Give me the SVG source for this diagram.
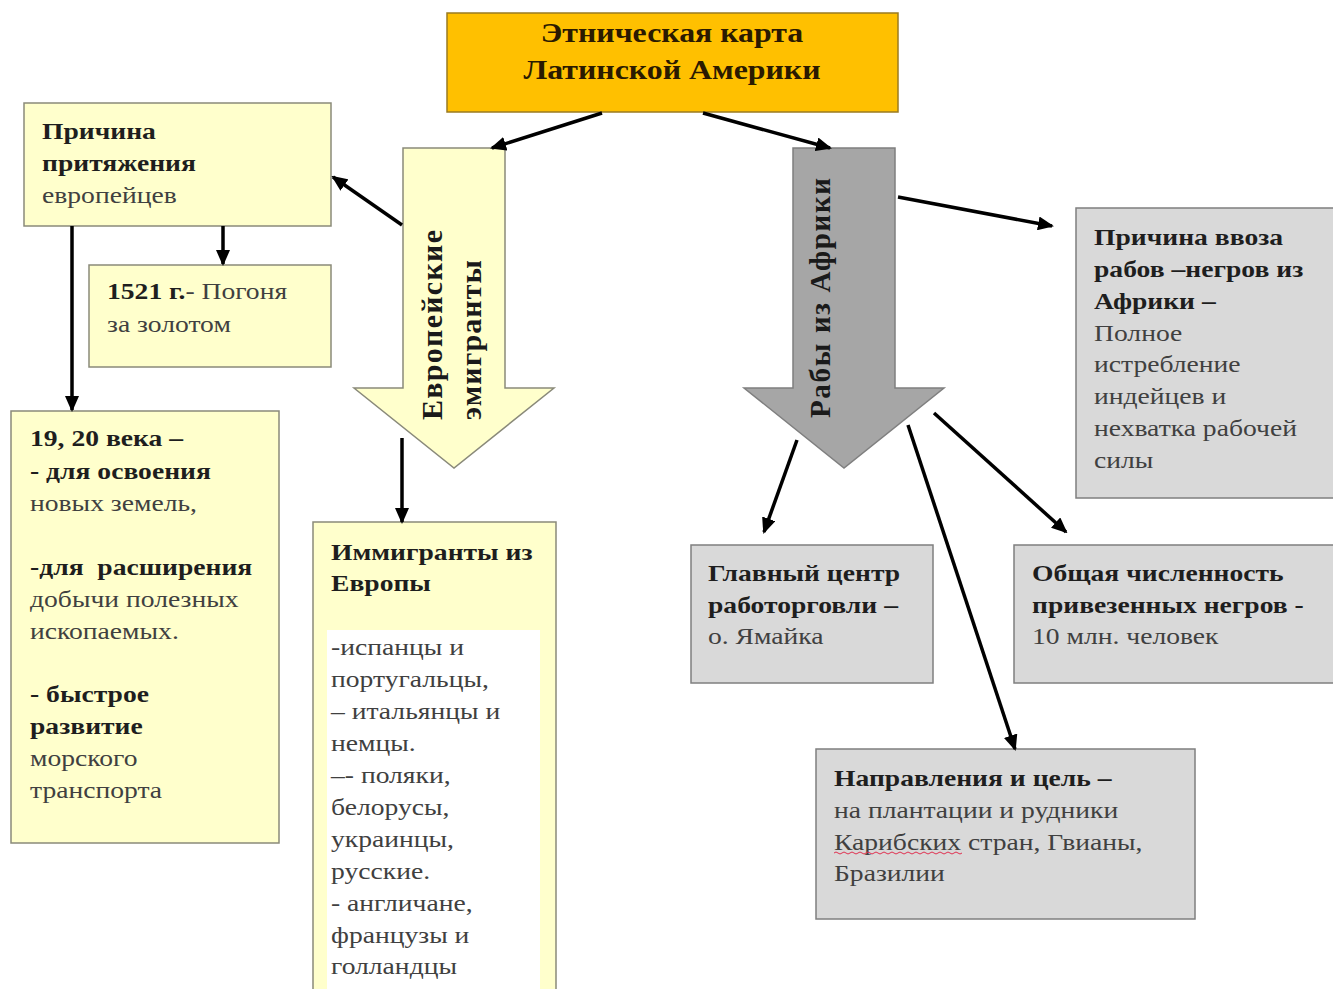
<svg xmlns="http://www.w3.org/2000/svg" width="1333" height="989" viewBox="0 0 1333 989">
<style>
.yb{fill:#FFFFCC;stroke:#8a8a7a;stroke-width:1.5}
.gb{fill:#D9D9D9;stroke:#7f7f7f;stroke-width:1.5}
.t{font-family:"Liberation Serif","Times New Roman",serif;font-size:24px;fill:#404040}
.b{font-weight:bold;fill:#1e1e1e}
.c{stroke:#000;stroke-width:3.5;fill:none;marker-end:url(#ah)}
.vt{font-family:"Liberation Serif","Times New Roman",serif;font-weight:bold;fill:#1a1a1a}
</style>
<defs>
<marker id="ah" markerUnits="userSpaceOnUse" markerWidth="16" markerHeight="14" refX="14" refY="7" orient="auto">
<path d="M0,0 L16,7 L0,14 z" fill="#000"/>
</marker>
</defs>
<rect x="0" y="0" width="1333" height="989" fill="#fff"/>

<g id="title">
<rect x="447" y="13" width="451" height="99" fill="#FFC000" stroke="#9a7b20" stroke-width="1.5"/>
<g transform="translate(672 0) scale(1.18 1)">
<text font-family="Liberation Serif,'Times New Roman',serif" font-size="27" font-weight="bold" fill="#2b1a00" text-anchor="middle"><tspan x="0" y="42">Этническая карта</tspan><tspan x="0" y="79">Латинской Америки</tspan></text>
</g>
</g>

<g id="european-arrow">
<path d="M403,148 L505,148 L505,388 L554,388 L454,468 L354,388 L403,388 Z" fill="#FFFFCC" stroke="#8a8a7a" stroke-width="1.5"/>
<text class="vt" font-size="30" transform="translate(442 420) rotate(-90)" textLength="190">Европейские</text>
<text class="vt" font-size="30" transform="translate(481 420) rotate(-90)" textLength="160">эмигранты</text>
</g>

<g id="africa-arrow">
<path d="M793,148 L895,148 L895,388 L944,388 L844,468 L744,388 L793,388 Z" fill="#A6A6A6" stroke="#7f7f7f" stroke-width="1.5"/>
<text class="vt" font-size="29" transform="translate(830 418) rotate(-90)" textLength="240">Рабы из Африки</text>
</g>

<g id="reason-attraction">
<rect class="yb" x="24" y="103" width="307" height="123"/>
<g transform="translate(42 0) scale(1.15 1)">
<text class="t"><tspan class="b" x="0" y="139">Причина</tspan><tspan class="b" x="0" y="171">притяжения</tspan><tspan x="0" y="203">европейцев</tspan></text>
</g>
</g>

<g id="gold-1521">
<rect class="yb" x="89" y="265" width="242" height="102"/>
<g transform="translate(107 0) scale(1.15 1)">
<text class="t"><tspan x="0" y="299"><tspan class="b">1521 г.</tspan>- Погоня</tspan><tspan x="0" y="332">за золотом</tspan></text>
</g>
</g>

<g id="centuries-19-20">
<rect class="yb" x="11" y="411" width="268" height="432"/>
<g transform="translate(30 0) scale(1.15 1)">
<text class="t"><tspan class="b" x="0" y="446">19, 20 века –</tspan><tspan class="b" x="0" y="479">- для освоения</tspan><tspan x="0" y="511">новых земель,</tspan><tspan class="b" x="0" y="575" xml:space="preserve">-для  расширения</tspan><tspan x="0" y="607">добычи полезных</tspan><tspan x="0" y="639">ископаемых.</tspan><tspan class="b" x="0" y="702">- быстрое</tspan><tspan class="b" x="0" y="734">развитие</tspan><tspan x="0" y="766">морского</tspan><tspan x="0" y="798">транспорта</tspan></text>
</g>
</g>

<g id="immigrants-europe">
<rect class="yb" x="313" y="522" width="243" height="480"/>
<rect x="327" y="630" width="213" height="360" fill="#fff"/>
<g transform="translate(331 0) scale(1.15 1)">
<text class="t"><tspan class="b" x="0" y="560">Иммигранты из</tspan><tspan class="b" x="0" y="591">Европы</tspan><tspan x="0" y="655">-испанцы и</tspan><tspan x="0" y="687">португальцы,</tspan><tspan x="0" y="719">– итальянцы и</tspan><tspan x="0" y="751">немцы.</tspan><tspan x="0" y="783">–- поляки,</tspan><tspan x="0" y="815">белорусы,</tspan><tspan x="0" y="847">украинцы,</tspan><tspan x="0" y="879">русские.</tspan><tspan x="0" y="911">- англичане,</tspan><tspan x="0" y="943">французы и</tspan><tspan x="0" y="974">голландцы</tspan></text>
</g>
</g>

<g id="reason-slaves">
<rect class="gb" x="1076" y="208" width="262" height="290"/>
<g transform="translate(1094 0) scale(1.15 1)">
<text class="t"><tspan class="b" x="0" y="245">Причина ввоза</tspan><tspan class="b" x="0" y="277">рабов –негров из</tspan><tspan class="b" x="0" y="309">Африки –</tspan><tspan x="0" y="341">Полное</tspan><tspan x="0" y="372">истребление</tspan><tspan x="0" y="404">индейцев и</tspan><tspan x="0" y="436">нехватка рабочей</tspan><tspan x="0" y="468">силы</tspan></text>
</g>
</g>

<g id="jamaica">
<rect class="gb" x="691" y="545" width="242" height="138"/>
<g transform="translate(708 0) scale(1.15 1)">
<text class="t"><tspan class="b" x="0" y="581">Главный центр</tspan><tspan class="b" x="0" y="613">работорговли –</tspan><tspan x="0" y="644">о. Ямайка</tspan></text>
</g>
</g>

<g id="total-number">
<rect class="gb" x="1014" y="545" width="324" height="138"/>
<g transform="translate(1032 0) scale(1.15 1)">
<text class="t"><tspan class="b" x="0" y="581">Общая численность</tspan><tspan class="b" x="0" y="613">привезенных негров -</tspan><tspan x="0" y="644">10 млн. человек</tspan></text>
</g>
</g>

<g id="directions">
<rect class="gb" x="816" y="749" width="379" height="170"/>
<g transform="translate(834 0) scale(1.15 1)">
<text class="t"><tspan class="b" x="0" y="786">Направления и цель –</tspan><tspan x="0" y="818">на плантации и рудники</tspan><tspan x="0" y="850">Карибских стран, Гвианы,</tspan><tspan x="0" y="881">Бразилии</tspan></text>
</g>
<path d="M834,853 q2,-2 4,0 t4,0 t4,0 t4,0 t4,0 t4,0 t4,0 t4,0 t4,0 t4,0 t4,0 t4,0 t4,0 t4,0 t4,0 t4,0 t4,0 t4,0 t4,0 t4,0 t4,0 t4,0 t4,0 t4,0 t4,0 t4,0 t4,0 t4,0 t4,0 t4,0 t4,0 t4,0" fill="none" stroke="#e03050" stroke-width="1"/>
</g>

<g id="connectors">
<line class="c" x1="602" y1="113" x2="492" y2="148"/>
<line class="c" x1="703" y1="113" x2="830" y2="148"/>
<line class="c" x1="402" y1="225" x2="333" y2="177"/>
<line class="c" x1="223" y1="226" x2="223" y2="264"/>
<line class="c" x1="72" y1="226" x2="72" y2="410"/>
<line class="c" x1="402" y1="438" x2="402" y2="522"/>
<line class="c" x1="898" y1="197" x2="1052" y2="226"/>
<line class="c" x1="797" y1="440" x2="764" y2="532"/>
<line class="c" x1="908" y1="425" x2="1015" y2="749"/>
<line class="c" x1="934" y1="413" x2="1066" y2="532"/>
</g>
</svg>
